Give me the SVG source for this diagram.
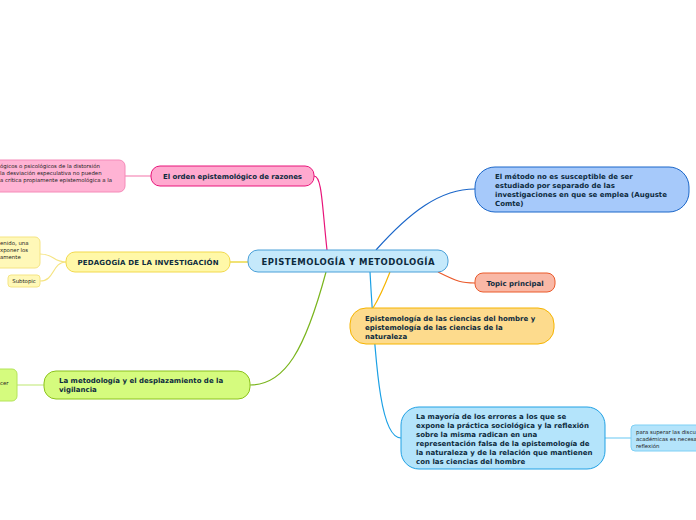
<svg xmlns="http://www.w3.org/2000/svg" width="696" height="520" viewBox="0 0 696 520">
<style>
text{font-family:"DejaVu Sans",Verdana,sans-serif;font-weight:bold;fill:#0d2b3e}
.t{font-size:7px}
.s{font-size:5.4px;font-weight:normal;fill:#222}
.c{text-anchor:middle}
.cn{fill:none;stroke-width:1.2}
</style>
<rect width="696" height="520" fill="#ffffff"/>
<g id="connectors">
<path class="cn" d="M327,250 C322,205 322,176 314,176" stroke="#e8157a"/>
<path class="cn" d="M125,176 L151,176" stroke="#f58ab8" stroke-width="1"/>
<path class="cn" d="M248,262 L230,262" stroke="#e6cf1a"/>
<path class="cn" d="M66,262 C52,262 55,254 40,254" stroke="#f5e483" stroke-width="1"/>
<path class="cn" d="M66,262 C52,262 55,281 40,281" stroke="#f5e483" stroke-width="1"/>
<path class="cn" d="M326,272 C305,350 285,385 250,385" stroke="#7ab51d"/>
<path class="cn" d="M44,385 L17,385" stroke="#c8ec87" stroke-width="1"/>
<path class="cn" d="M376,250 C410,212 440,189 475,189" stroke="#1a66c9"/>
<path class="cn" d="M438,272 C458,282 462,283 475,283" stroke="#ea5a2b"/>
<path class="cn" d="M390,272 C383,290 378,300 373,308" stroke="#f6b400"/>
<path class="cn" d="M370,272 C376,380 382,438 401,438" stroke="#1aa0e5"/>
<path class="cn" d="M605,438 L631,438" stroke="#7fd0f5" stroke-width="1"/>
</g>
<g id="n-center">
<rect x="248" y="250" width="200" height="22" rx="10" fill="#c5e9fb" stroke="#4aa0d8" stroke-width="1"/>
<text x="348" y="265" class="c" font-size="8.5" textLength="173" fill="#0d2446">EPISTEMOLOGÍA Y METODOLOGÍA</text>
</g>
<g id="n-orden">
<rect x="151" y="166" width="163" height="20" rx="9" fill="#ffa9cf" stroke="#e8157a" stroke-width="1"/>
<text x="232.5" y="179" class="t c" textLength="139">El orden epistemológico de razones</text>
</g>
<g id="n-orden-sub">
<rect x="-20" y="160" width="145" height="32" rx="6" fill="#ffb3d4" stroke="#f58ab8" stroke-width="1"/>
<text class="s"><tspan x="0" y="168">ógicos o psicológicos de la distorsión</tspan><tspan x="0" y="175">la desviación especulativa no pueden</tspan><tspan x="0" y="182">a crítica propiamente epistemológica a la</tspan></text>
</g>
<g id="n-pedagogia">
<rect x="66" y="252" width="164" height="20" rx="9" fill="#fff8a8" stroke="#f2d94d" stroke-width="1"/>
<text x="148" y="265" class="t c" textLength="141">PEDAGOGÍA DE LA INVESTIGACIÓN</text>
</g>
<g id="n-pedagogia-sub1">
<rect x="-20" y="237" width="60" height="31" rx="5" fill="#fff8b8" stroke="#f5e483" stroke-width="1"/>
<text class="s"><tspan x="0" y="245">enido, una</tspan><tspan x="0" y="252">xponer los</tspan><tspan x="0" y="259">amente</tspan></text>
</g>
<g id="n-pedagogia-sub2">
<rect x="8" y="275" width="32" height="12" rx="3" fill="#fff8b8" stroke="#f5e483" stroke-width="1"/>
<text x="24" y="283" class="s c">Subtopic</text>
</g>
<g id="n-metodologia">
<rect x="44" y="371" width="206" height="28" rx="12" fill="#d5fb7e" stroke="#8bc21c" stroke-width="1"/>
<text class="t"><tspan x="59" y="383">La metodología y el desplazamiento de la</tspan><tspan x="59" y="392">vigilancia</tspan></text>
</g>
<g id="n-metodologia-sub">
<rect x="-20" y="369" width="37" height="32" rx="5" fill="#d5fb7e" stroke="#b4e45a" stroke-width="1"/>
<text x="0" y="385" class="s">cer</text>
</g>
<g id="n-metodo">
<rect x="475" y="167" width="214" height="45" rx="20" fill="#a6c9fa" stroke="#1a66c9" stroke-width="1"/>
<text class="t"><tspan x="495" y="179">El método no es susceptible de ser</tspan><tspan x="495" y="188">estudiado por separado de las</tspan><tspan x="495" y="197">investigaciones en que se emplea (Auguste</tspan><tspan x="495" y="206">Comte)</tspan></text>
</g>
<g id="n-topic">
<rect x="475" y="273" width="80" height="19" rx="8" fill="#f9b8a6" stroke="#ea5a2b" stroke-width="1"/>
<text x="515" y="286" class="t c">Topic principal</text>
</g>
<g id="n-epist">
<rect x="350" y="308" width="204" height="36" rx="16" fill="#fddb8d" stroke="#f6b400" stroke-width="1"/>
<text class="t"><tspan x="365" y="321">Epistemología de las ciencias del hombre y</tspan><tspan x="365" y="330">epistemología de las ciencias de la</tspan><tspan x="365" y="339">naturaleza</tspan></text>
</g>
<g id="n-mayoria">
<rect x="401" y="407" width="204" height="62" rx="18" fill="#b4e4fb" stroke="#21a1e4" stroke-width="1"/>
<text class="t"><tspan x="416" y="419">La mayoría de los errores a los que se</tspan><tspan x="416" y="428">expone la práctica sociológica y la reflexión</tspan><tspan x="416" y="437">sobre la misma radican en una</tspan><tspan x="416" y="446">representación falsa de la epistemología de</tspan><tspan x="416" y="455">la naturaleza y de la relación que mantienen</tspan><tspan x="416" y="464">con las ciencias del hombre</tspan></text>
</g>
<g id="n-mayoria-sub">
<rect x="631" y="425" width="80" height="26" rx="4" fill="#b4e4fb" stroke="#7fd0f5" stroke-width="1"/>
<text class="s"><tspan x="636" y="434">para superar las discu</tspan><tspan x="636" y="441">académicas es necesa</tspan><tspan x="636" y="448">reflexión</tspan></text>
</g>
</svg>
